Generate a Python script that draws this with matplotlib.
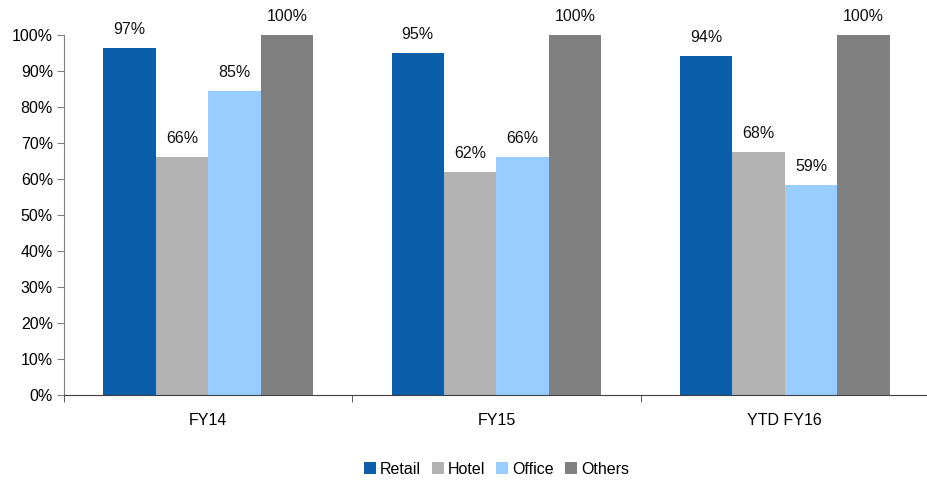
import matplotlib
matplotlib.use("Agg")
import matplotlib.pyplot as plt
import numpy as np

plt.rcParams['font.family'] = ['Liberation Sans', 'DejaVu Sans']

categories = ['FY14', 'FY15', 'YTD FY16']
series = ['Retail', 'Hotel', 'Office', 'Others']
retail = [0.964, 0.951, 0.942]
hotel = [0.662, 0.620, 0.676]
office = [0.845, 0.661, 0.584]
others = [1.0, 1.0, 1.0]
retail_lbl = ['97%', '95%', '94%']
hotel_lbl = ['66%', '62%', '68%']
office_lbl = ['85%', '66%', '59%']
others_lbl = ['100%', '100%', '100%']
colors = ['#0B5EA8', '#B2B2B2', '#99CCFF', '#808080']

values = [retail, hotel, office, others]
labels = [retail_lbl, hotel_lbl, office_lbl, others_lbl]

fig = plt.figure(figsize=(9.28, 4.82), dpi=100)
ax = fig.add_axes([64 / 928, 87 / 482, 865 / 928, 360 / 482])

x = np.arange(len(categories))
w = 0.182
for i, (vals, lbls) in enumerate(zip(values, labels)):
    pos = x + (i - 1.5) * w
    ax.bar(pos, vals, width=w, color=colors[i], label=series[i])
    for p, v, t in zip(pos, vals, lbls):
        ax.annotate(t, (p, v), xytext=(0, 8), textcoords='offset points',
                    ha='center', va='bottom', fontsize=11.5, color='#111111',
                    annotation_clip=False)

ax.set_xlim(-0.5, len(categories) - 0.5)
ax.set_ylim(0, 1.0)
ax.set_yticks(np.arange(0, 1.01, 0.1))
ax.set_yticklabels([f'{int(round(t * 100))}%' for t in np.arange(0, 1.01, 0.1)], fontsize=11.5)
ax.set_xticks(x)
ax.set_xticklabels(categories, fontsize=11.5)
ax.tick_params(axis='x', length=0, pad=13)
ax.set_xticks(np.arange(-0.5, len(categories), 1), minor=True)
ax.tick_params(axis='x', which='minor', length=5, color='#404040', direction='out')
ax.tick_params(axis='y', length=5, color='#808080', direction='out', pad=3)

for s in ['top', 'right']:
    ax.spines[s].set_visible(False)
ax.spines['left'].set_color('#808080')
ax.spines['bottom'].set_color('#404040')

ax.legend(loc='upper center', bbox_to_anchor=(0.5, -0.145), ncol=4, frameon=False,
          fontsize=11.5, handlelength=0.75, handleheight=0.75, handletextpad=0.25,
          columnspacing=0.7)

fig.savefig('out.png', dpi=100)
